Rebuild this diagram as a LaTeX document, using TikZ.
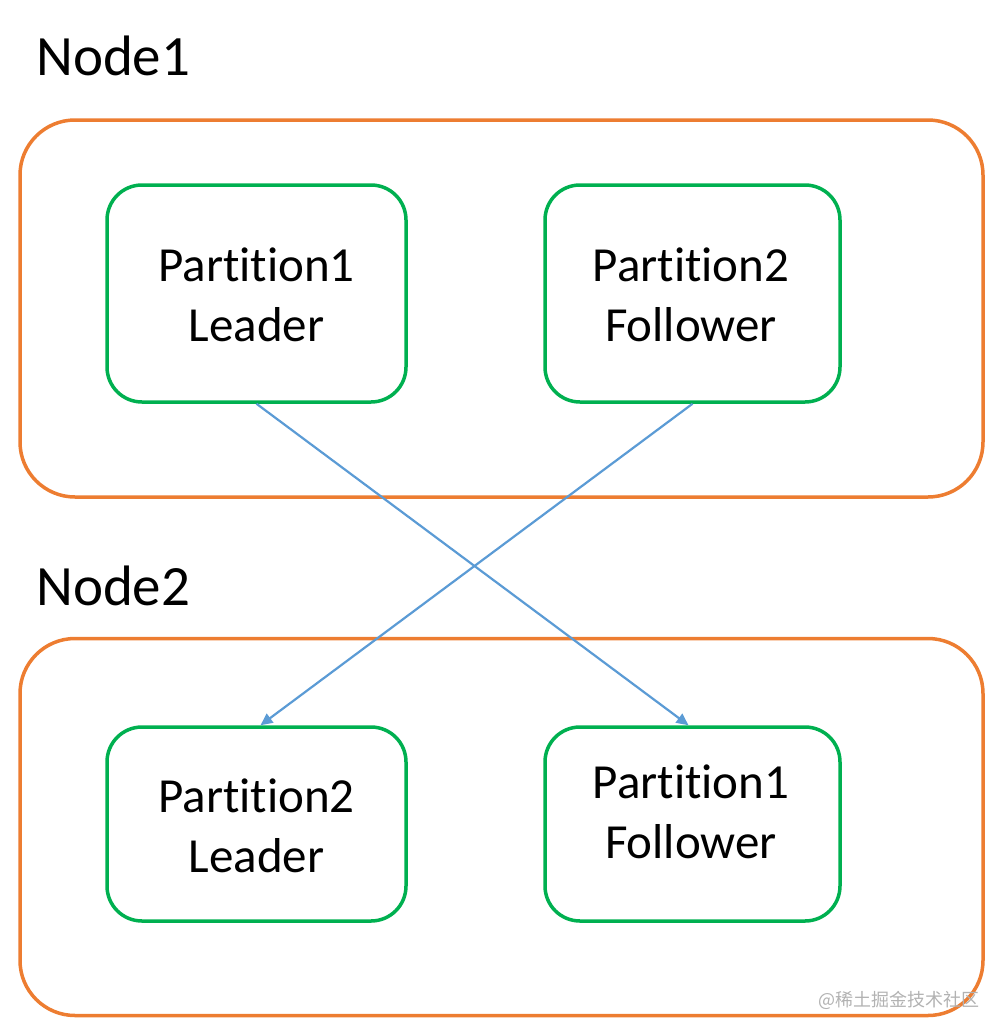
\documentclass[tikz,border=0pt]{standalone}
\usepackage{fontspec}
\setmainfont{Carlito}[Ligatures={NoCommon,NoRare},RawFeature={-liga;-dlig}]
\newfontfamily\cjk{Noto Sans CJK SC}
\usetikzlibrary{arrows.meta}
\definecolor{orangeB}{HTML}{ED7D31}
\definecolor{greenB}{HTML}{00B050}
\definecolor{blueA}{HTML}{5B9BD5}
\begin{document}
\begin{tikzpicture}[x=1pt,y=-1pt,
  outerbox/.style={draw=orangeB,line width=3.5pt,rounded corners=55pt,minimum width=963pt,minimum height=377pt,inner sep=0pt},
  partbox/.style={draw=greenB,line width=3.5pt,rounded corners=35pt,inner sep=0pt},
  lbl/.style={font=\fontsize{49}{60}\selectfont,align=center,inner sep=0pt},
  title/.style={font=\fontsize{57}{68}\selectfont,anchor=base west,inner sep=0pt},
  conn/.style={draw=blueA,line width=2.2pt,-{Triangle[length=12pt,width=11pt]}}]
\useasboundingbox (0,0) rectangle (985,1018);
\node[title] (n1t) at (36,75) {Node1};
\node[title] (n2t) at (36,605) {Node2};
\node[outerbox] (n1) at (501.5,308.5) {};
\node[outerbox] (n2) at (501.5,827) {};
\node[partbox,minimum width=299pt,minimum height=217pt] (p1l) at (256.5,293.5) {};
\node[partbox,minimum width=295pt,minimum height=217pt] (p2f) at (692.5,293.5) {};
\node[partbox,minimum width=299pt,minimum height=194pt] (p2l) at (256.5,824) {};
\node[partbox,minimum width=295pt,minimum height=194pt] (p1f) at (692.5,824) {};
\node[lbl] (t1) at (256.5,295) {Partition1\\Leader};
\node[lbl] (t2) at (691,295) {Partition2\\Follower};
\node[lbl] (t3) at (256.5,826) {Partition2\\Leader};
\node[lbl] (t4) at (691,812) {Partition1\\Follower};
\draw[conn] (p1l.south) -- ([xshift=-4pt]p1f.north);
\draw[conn] (p2f.south) -- ([xshift=4pt]p2l.north);
\node[font=\cjk\fontsize{18}{20}\selectfont,text=black!30,anchor=east,inner sep=0pt] (wm) at (980,1000) {@稀土掘金技术社区};
\end{tikzpicture}
\end{document}
